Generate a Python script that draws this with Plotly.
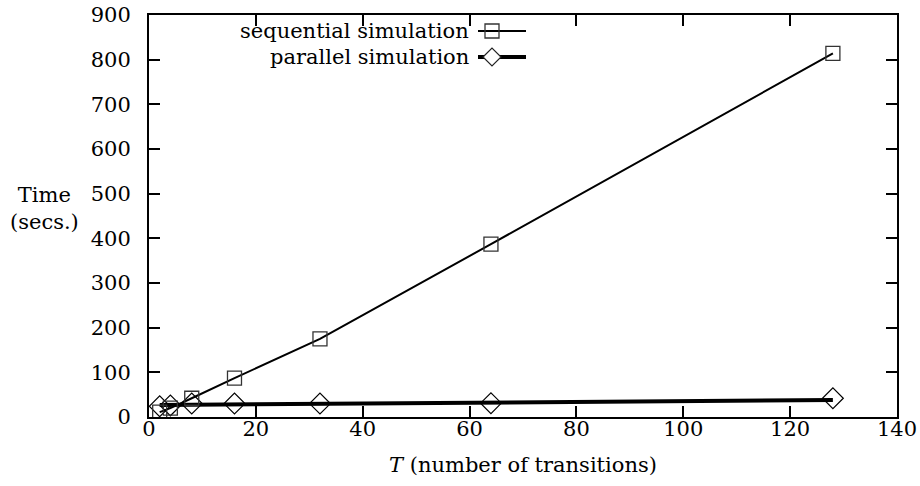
import plotly.graph_objects as go

# Data
transitions = [2, 4, 8, 16, 32, 64, 128]
sequential_time = [11, 20, 42, 87, 175, 387, 814]
parallel_time = [24, 26, 30, 30, 30, 31, 42]
# thick fitted line for the parallel simulation
parallel_fit_x = [2, 128]
parallel_fit_y = [27, 38]

x_ticks = [0, 20, 40, 60, 80, 100, 120, 140]
y_ticks = [0, 100, 200, 300, 400, 500, 600, 700, 800, 900]

FONT = "DejaVu Serif"
FS = 21

# target plot area in window pixels
L, R, T, B = 149, 897, 15, 417
W, H = 920, 486

fig = go.Figure()
fig.add_trace(go.Scatter(
    x=parallel_fit_x, y=parallel_fit_y, mode="lines",
    line=dict(color="black", width=4), showlegend=False, hoverinfo="skip"))
fig.add_trace(go.Scatter(
    x=transitions, y=parallel_time, mode="markers",
    marker=dict(symbol="diamond-open", size=16, color="black",
                line=dict(width=1.2, color="#222")),
    showlegend=False))
fig.add_trace(go.Scatter(
    x=transitions, y=sequential_time, mode="lines+markers",
    line=dict(color="black", width=2),
    marker=dict(symbol="square-open", size=14, color="#333",
                line=dict(width=1.3, color="#333")),
    showlegend=False))

axis_common = dict(
    showline=True, linecolor="black", linewidth=2, mirror="ticks",
    ticks="inside", ticklen=11, tickwidth=2, tickcolor="black",
    showgrid=False, zeroline=False, ticklabeloverflow="allow", automargin=False,
    tickfont=dict(family=FONT, size=FS, color="black"),
)

fig.update_xaxes(range=[0, 140], tickvals=x_ticks, ticktext=[str(v) for v in x_ticks],
                 ticklabelstandoff=-8,
                 title=dict(text="<i>T</i> (number of transitions)",
                            font=dict(family=FONT, size=FS, color="black"),
                            standoff=17),
                 **axis_common)
fig.update_yaxes(range=[0, 900], tickvals=y_ticks, ticktext=[str(v) for v in y_ticks],
                 ticklabelstandoff=12,
                 **axis_common)


def px(xp):
    return (xp - L) / (R - L)


def py(yp):
    return (B - yp) / (B - T)


# y-axis label (horizontal)
fig.add_annotation(xref="paper", yref="paper", x=px(44), y=py(208),
                   text="Time<br>(secs.)", showarrow=False, align="center",
                   xanchor="center", yanchor="middle",
                   font=dict(family=FONT, size=FS, color="black"))

# manual legend (text right-aligned, sample on the right)
legend_rows = [("sequential simulation", 31, 2, "square"),
               ("parallel simulation", 57, 4, "diamond")]
for label, yy, lw, sym in legend_rows:
    fig.add_annotation(xref="paper", yref="paper", x=px(471), y=py(yy),
                       text=label, showarrow=False, xanchor="right", yanchor="middle",
                       font=dict(family=FONT, size=FS, color="black"))
    fig.add_shape(type="line", xref="paper", yref="paper",
                  x0=px(478), x1=px(526), y0=py(yy), y1=py(yy),
                  line=dict(color="black", width=lw))
    cx, cy = 492, yy
    if sym == "square":
        h = 7
        fig.add_shape(type="rect", xref="paper", yref="paper",
                      x0=px(cx - h), x1=px(cx + h), y0=py(cy + h), y1=py(cy - h),
                      line=dict(color="#333", width=1.3), fillcolor="rgba(0,0,0,0)")
    else:
        h = 9
        path = "M {} {} L {} {} L {} {} L {} {} Z".format(
            px(cx - h), py(cy), px(cx), py(cy - h), px(cx + h), py(cy), px(cx), py(cy + h))
        fig.add_shape(type="path", xref="paper", yref="paper", path=path,
                      line=dict(color="#222", width=1.2), fillcolor="white")

fig.update_layout(
    width=W, height=H,
    margin=dict(l=L, r=920 - R, t=T, b=486 - B),
    paper_bgcolor="white", plot_bgcolor="white",
    font=dict(family=FONT, size=FS, color="black"),
    showlegend=False,
)

fig.write_html(
    "out.html",
    config={"displayModeBar": False},
    post_script="document.body.style.margin='0';document.body.style.overflow='hidden';",
)
